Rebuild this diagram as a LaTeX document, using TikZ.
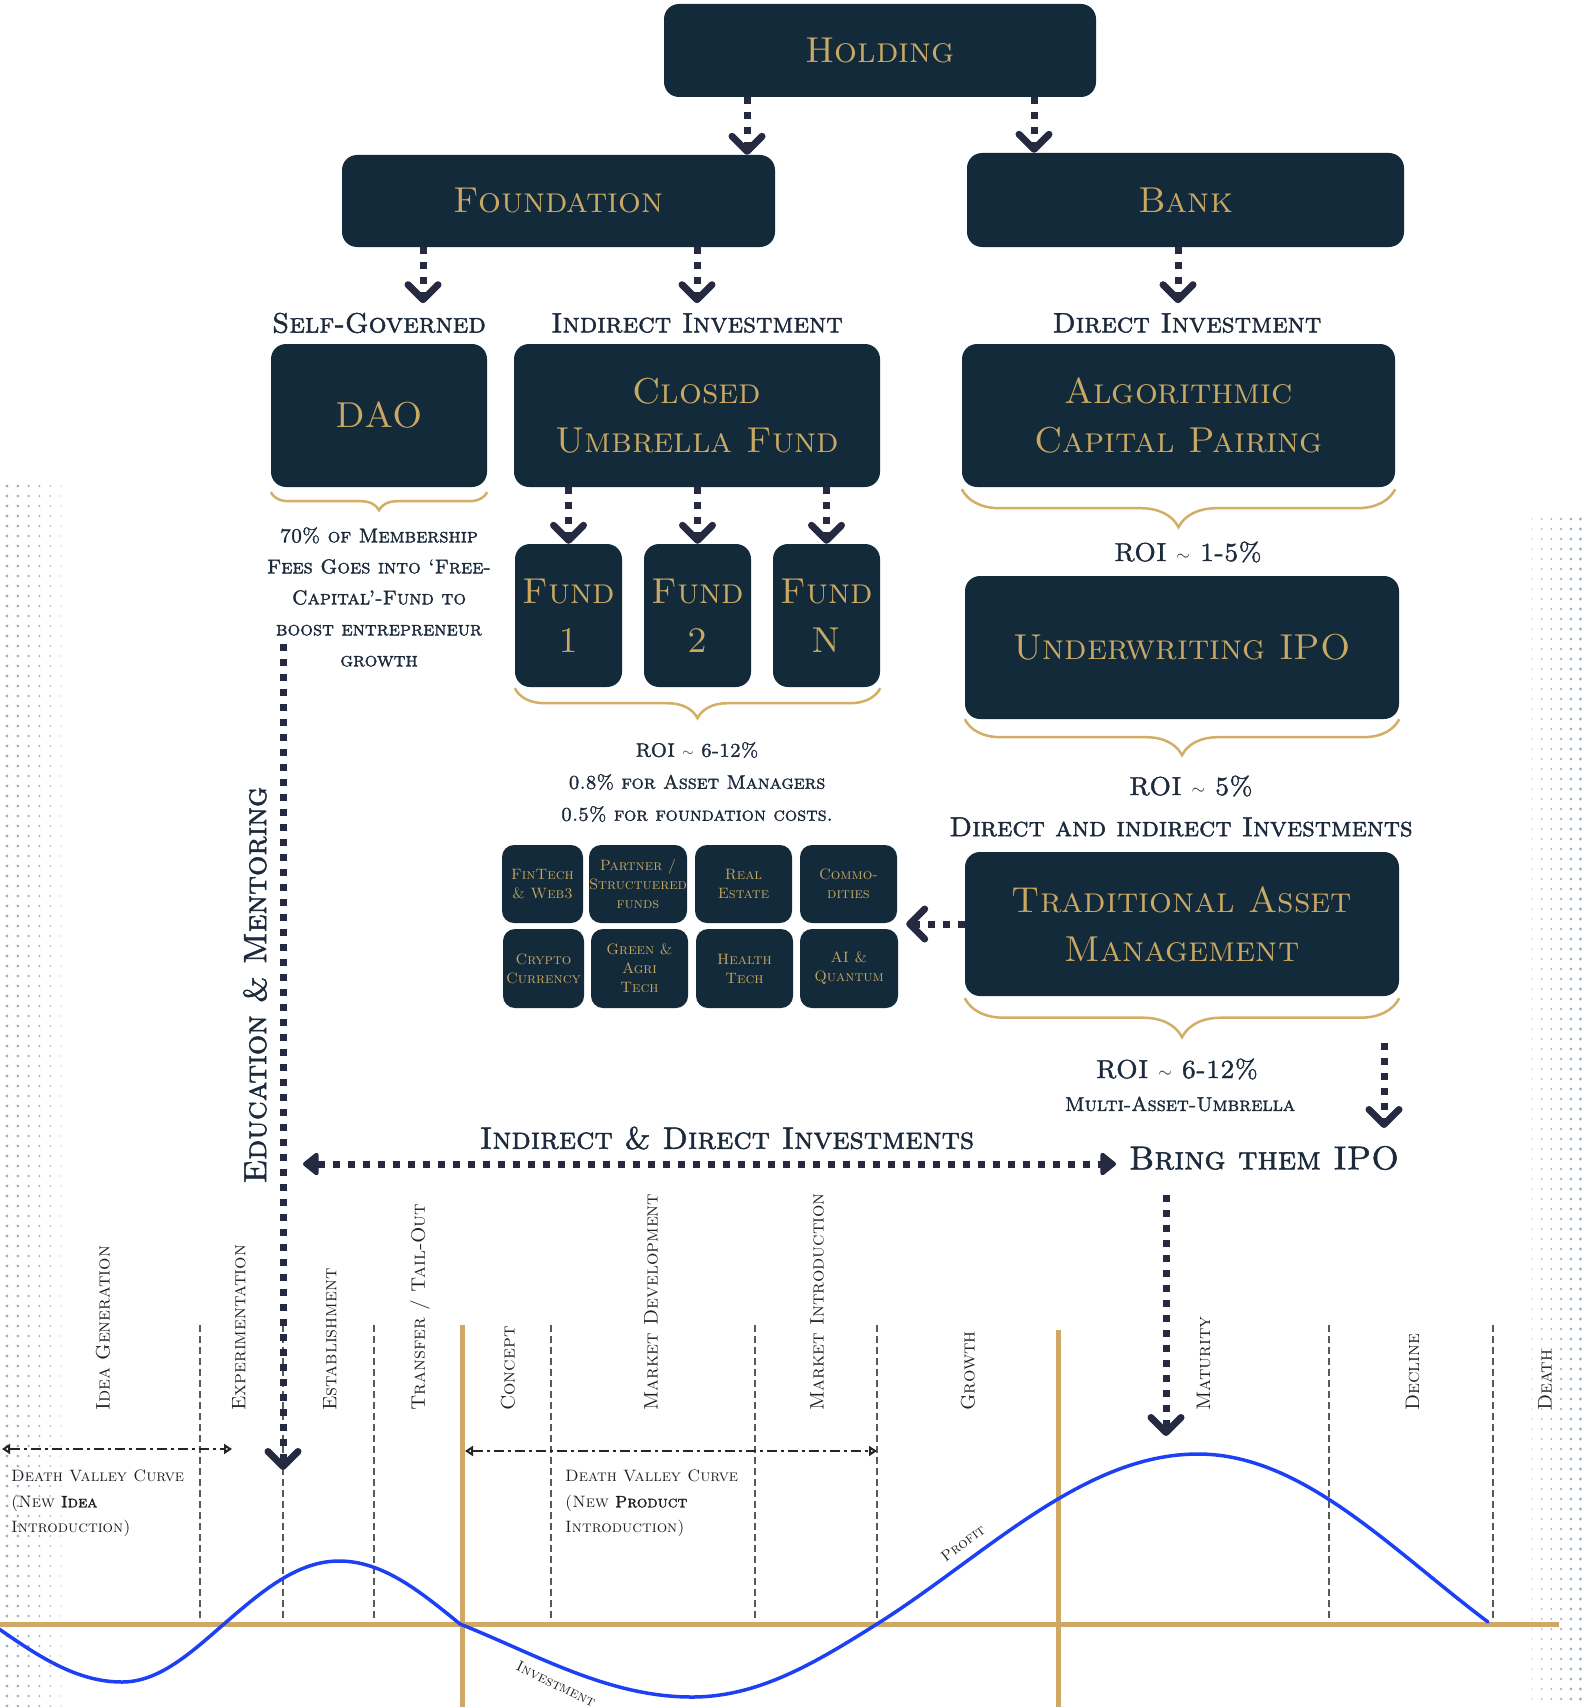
\documentclass[tikz,border=0pt]{standalone}
\usepackage{fontspec}
\usetikzlibrary{arrows.meta,decorations.pathreplacing,calc}
\newfontfamily\capsreg{lmromancaps10-regular.otf}
\newfontfamily\capsbf[FakeBold=1.6]{lmromancaps10-regular.otf}
\newcommand\tld{\raisebox{0.5pt}{\scalebox{0.7}{$\sim$}}}
\definecolor{navy}{HTML}{132A3B}
\definecolor{goldtxt}{HTML}{C8A862}
\definecolor{goldb}{HTML}{D2AE66}
\definecolor{axisgold}{HTML}{CFA865}
\definecolor{arrowc}{HTML}{262A41}
\definecolor{labc}{HTML}{1C2A3B}
\definecolor{dotc}{HTML}{9DB0BC}
\definecolor{curveblue}{HTML}{1E40F5}
\definecolor{stagec}{HTML}{1E1E24}
\begin{document}
\begin{tikzpicture}[x=1pt,y=-1pt,
  box/.style={fill=navy, rounded corners=15pt, text=goldtxt, align=center, inner sep=0pt,
    font=\capsreg\fontsize{36}{49}\selectfont},
  sector/.style={box, rounded corners=12pt, font=\capsreg\fontsize{15}{19}\selectfont},
  lbl/.style={text=labc, inner sep=0pt, align=center, font=\capsbf\fontsize{28}{32}\selectfont},
  note/.style={text=labc, inner sep=0pt, align=center, font=\capsbf\fontsize{20}{31}\selectfont},
  roi/.style={text=labc, inner sep=0pt, align=center, font=\capsbf\fontsize{26}{30}\selectfont},
  stage/.style={rotate=90, anchor=west, inner sep=0pt, text=stagec, font=\capsreg\fontsize{19.5}{22}\selectfont},
  dvtext/.style={anchor=north west, inner sep=0pt, align=left, text=stagec, font=\capsreg\fontsize{16.5}{25.5}\selectfont},
  curvelbl/.style={inner sep=0pt, text=stagec, font=\capsreg\fontsize{15}{17}\selectfont},
  darrow/.style={draw=arrowc, line width=7pt, dash pattern=on 7pt off 8pt,
    -{Straight Barb[length=15pt,width=30pt,line width=7pt,round]}},
  tarrow/.style={draw=arrowc, line width=7pt, dash pattern=on 7pt off 8pt,
    {Triangle[length=17pt,width=26pt,round]}-{Triangle[length=17pt,width=26pt,round]}},
  dvarrow/.style={draw=black!85, line width=2.5pt, dash pattern=on 10pt off 4pt on 3pt off 4pt,
    {Triangle[open,length=8pt,width=10pt]}-{Triangle[open,length=8pt,width=10pt]}},
  goldbrace/.style={draw=goldb, line width=2.5pt, decorate, decoration={brace, amplitude=#1}},
  stagedash/.style={draw=black!65, line width=1.6pt, dash pattern=on 7pt off 4pt},
  axisline/.style={draw=axisgold, line width=5pt},
  curve/.style={draw=curveblue, line width=3.5pt, line cap=round, line join=round}
]
\useasboundingbox (0,0) rectangle (1585,1707);

% dotted backgrounds
\foreach \i in {0,...,5} {
  \pgfmathsetmacro{\rr}{1.7-0.2*\i}
  \foreach \j in {0,...,122} {
    \fill[dotc] ({7+10.8*\i},{486+10*\j}) circle (\rr pt);
  }
}
\foreach \i in {0,...,5} {
  \pgfmathsetmacro{\rr}{0.6+0.22*\i}
  \foreach \j in {0,...,118} {
    \fill[dotc] ({1532+9.7*\i},{519+10*\j}) circle (\rr pt);
  }
}

% top hierarchy
\node[box, minimum width=432pt, minimum height=93pt] (holding) at (880,50.5) {Holding};
\node[box, minimum width=433pt, minimum height=92pt] (foundation) at (558.5,201) {Foundation};
\node[box, minimum width=437pt, minimum height=94pt] (bank) at (1185.5,200) {Bank};

\draw[darrow] ([xshift=-133pt]holding.south) -- ([xshift=-133pt]holding.south |- foundation.north);
\draw[darrow] ([xshift=154pt]holding.south) -- ([xshift=154pt]holding.south |- bank.north);

\draw[darrow] ([xshift=-135.5pt]foundation.south) -- ([xshift=-135.5pt,yshift=-56pt]foundation.south);
\draw[darrow] ([xshift=138.5pt]foundation.south) -- ([xshift=138.5pt,yshift=-56pt]foundation.south);
\draw[darrow] ([xshift=-7.5pt]bank.south) -- ([xshift=-7.5pt,yshift=-56pt]bank.south);

\node[lbl] (lself) at (379,323) {Self-Governed};
\node[lbl] (lind) at (697,323) {Indirect Investment};
\node[lbl] (ldir) at (1187,323) {Direct Investment};

\node[box, minimum width=216pt, minimum height=143pt] (dao) at (379,415.5) {DAO};
\node[box, minimum width=366pt, minimum height=143pt] (cuf) at (697,415.5) {Closed\\Umbrella Fund};
\node[box, minimum width=433pt, minimum height=143pt] (acp) at (1178.5,415.5) {Algorithmic\\Capital Pairing};

\draw[goldbrace=18pt] ([yshift=-5pt]dao.south east) -- ([yshift=-5pt]dao.south west);
\node[note] (daotxt) at (379,597) {70\% of Membership\\Fees Goes into ‘Free-\\Capital’-Fund to\\boost entrepreneur\\growth};

% funds
\node[box, minimum width=107pt, minimum height=143pt] (fund1) at (568.5,615.5) {Fund\\1};
\node[box, minimum width=107pt, minimum height=143pt] (fund2) at (697.5,615.5) {Fund\\2};
\node[box, minimum width=107pt, minimum height=143pt] (fundN) at (826.5,615.5) {Fund\\N};
\draw[darrow] (cuf.south -| fund1.north) -- (fund1.north);
\draw[darrow] (cuf.south -| fund2.north) -- (fund2.north);
\draw[darrow] (cuf.south -| fundN.north) -- (fundN.north);
\draw[goldbrace=30pt] ([yshift=-1pt]fundN.south east) -- ([yshift=-1pt]fund1.south west);
\node[note, font=\capsbf\fontsize{19.5}{32}\selectfont] (fundroi) at (697,782) {ROI \tld{} 6-12\%\\0.8\% for Asset Managers\\0.5\% for foundation costs.};

% right column
\draw[goldbrace=38pt] ([yshift=-2pt]acp.south east) -- ([yshift=-2pt]acp.south west);
\node[roi] (roi1) at (1188,552) {ROI \tld{} 1-5\%};
\node[box, minimum width=434pt, minimum height=143pt] (uipo) at (1182,647.5) {Underwriting IPO};
\draw[goldbrace=36pt] (uipo.south east) -- (uipo.south west);
\node[roi] (roi2) at (1191,786) {ROI \tld{} 5\%};
\node[lbl, font=\capsbf\fontsize{27.5}{30}\selectfont] (dandi) at (1181,827) {Direct and indirect Investments};
\node[box, minimum width=434pt, minimum height=144pt] (tam) at (1182,924) {Traditional Asset\\Management};
\draw[goldbrace=39pt] ([yshift=-2pt]tam.south east) -- ([yshift=-2pt]tam.south west);
\node[roi] (roi3) at (1177,1069) {ROI \tld{} 6-12\%};
\node[note] (mau) at (1180,1104) {Multi-Asset-Umbrella};

% sectors
\node[sector, minimum width=81pt, minimum height=78pt] (s1) at (542.5,884) {FinTech\\\& Web3};
\node[sector, minimum width=98pt, minimum height=78pt] (s2) at (638,884) {Partner /\\Structuered\\funds};
\node[sector, minimum width=97pt, minimum height=78pt] (s3) at (743.5,884) {Real\\Estate};
\node[sector, minimum width=97pt, minimum height=78pt] (s4) at (848.5,884) {Commo-\\dities};
\node[sector, minimum width=81pt, minimum height=79pt] (s5) at (543.5,968.5) {Crypto\\Currency};
\node[sector, minimum width=97pt, minimum height=79pt] (s6) at (639.5,968.5) {Green \&\\Agri\\Tech};
\node[sector, minimum width=97pt, minimum height=79pt] (s7) at (744.5,968.5) {Health\\Tech};
\node[sector, minimum width=98pt, minimum height=79pt] (s8) at (849,968.5) {AI \&\\Quantum};
\draw[darrow] (tam.west) -- ([xshift=9pt]s4.east |- tam.west);

% IPO and investments
\node[lbl, font=\capsbf\fontsize{33}{36}\selectfont] (ipo) at (1264,1158) {Bring them IPO};
\coordinate (ipoIn) at (1384,1043);
\coordinate (ipoInEnd) at (1384,1128);
\draw[darrow] (ipoIn) -- (ipoInEnd);
\node[lbl, font=\capsbf\fontsize{31}{34}\selectfont] (idi) at (727,1138) {Indirect \& Direct Investments};
\coordinate (hL) at (303,1164);
\coordinate (hR) at (1116,1164);
\draw[tarrow] (hL) -- (hR);

% education line
\node[rotate=90, inner sep=0pt, text=labc, font=\capsbf\fontsize{32}{34}\selectfont] (edu) at (255,985) {Education \& Mentoring};
\coordinate (eduTop) at (283,644);
\coordinate (eduEnd) at (283,1470);

% chart
\foreach \x in {200,283,374,551,755,877,1329,1493} \draw[stagedash] (\x,1325) -- (\x,1624);
\draw[darrow] (eduTop) -- (eduEnd);
\draw[axisline] (462,1325) -- (462,1707);
\draw[axisline] (1058,1330) -- (1058,1707);
\draw[axisline] (0,1624) -- (1559,1624);

\draw[curve] (-8,1624) .. controls (35.4,1654.4) and (75.2,1682) .. (122,1682)
  .. controls (158.7,1682) and (189.9,1653.7) .. (224,1624)
  .. controls (262.4,1590.6) and (297.6,1561) .. (339,1561)
  .. controls (382.6,1561) and (419.6,1590.9) .. (460,1624)
  .. controls (537.5,1655) and (608.5,1697) .. (692,1697)
  .. controls (758.6,1697) and (815.2,1662.9) .. (877,1624)
  .. controls (984.2,1556.5) and (1082.4,1454) .. (1198,1454)
  .. controls (1302.4,1454) and (1391.1,1549.3) .. (1488,1622);

\coordinate (peakTop) at (1166,1195);
\coordinate (peak) at (1166,1436);
\draw[darrow] (peakTop) -- (peak);

\coordinate (dv1L) at (2,1449);
\coordinate (dv1R) at (232,1449);
\coordinate (dv2L) at (465,1451);
\coordinate (dv2R) at (877,1451);
\draw[dvarrow] (dv1L) -- (dv1R);
\draw[dvarrow] (dv2L) -- (dv2R);

\node[stage] (st1) at (103,1411) {Idea Generation};
\node[stage] (st2) at (239,1411) {Experimentation};
\node[stage] (st3) at (330,1411) {Establishment};
\node[stage] (st4) at (420,1411) {Transfer / Tail-Out};
\node[stage] (st5) at (508,1411) {Concept};
\node[stage] (st6) at (651,1411) {Market Development};
\node[stage] (st7) at (817,1411) {Market Introduction};
\node[stage] (st8) at (968,1411) {Growth};
\node[stage] (st9) at (1203.5,1411) {Maturity};
\node[stage] (st10) at (1412.5,1411) {Decline};
\node[stage] (st11) at (1545,1411) {Death};

\node[dvtext] (dv1) at (11,1470) {Death Valley Curve\\(New {\capsbf Idea}\\Introduction)};
\node[dvtext] (dv2) at (565,1470) {Death Valley Curve\\(New {\capsbf Product}\\Introduction)};

\node[curvelbl, rotate=37] (profit) at (963,1543) {Profit};
\node[curvelbl, rotate=-26] (invest) at (556,1684) {Investment};
\end{tikzpicture}
\end{document}
